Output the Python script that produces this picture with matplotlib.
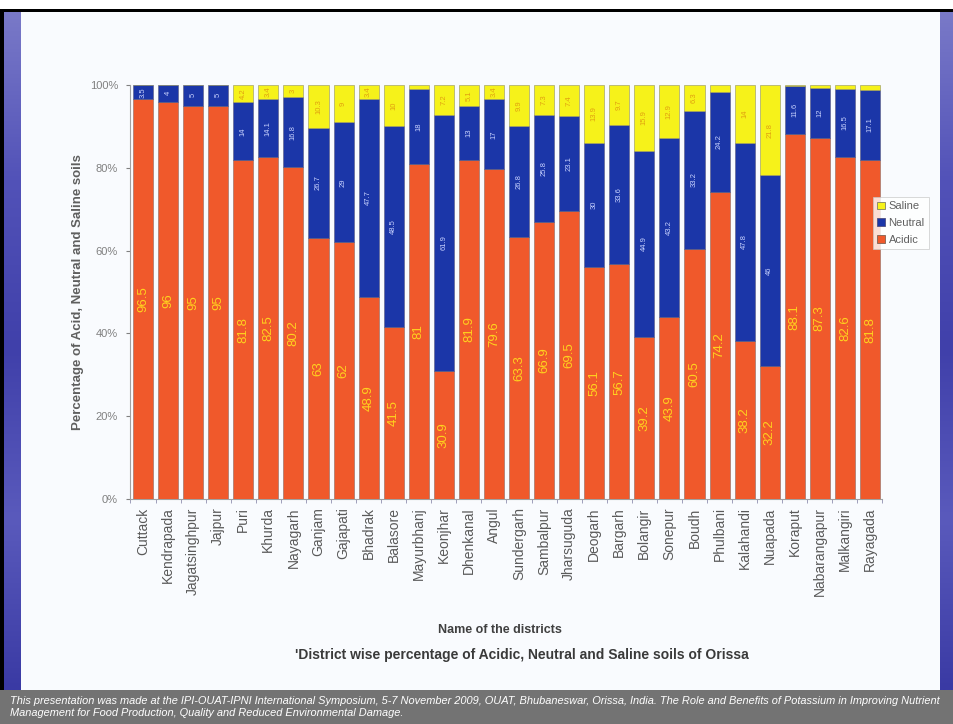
import numpy as np
import matplotlib
matplotlib.use("Agg")
import matplotlib.pyplot as plt
from matplotlib.patches import Rectangle, Patch
from matplotlib.colors import LinearSegmentedColormap
from matplotlib.ticker import FixedLocator, PercentFormatter

plt.rcParams['font.family'] = ['Liberation Sans', 'DejaVu Sans']

districts = ["Cuttack", "Kendrapada", "Jagatsinghpur", "Jajpur", "Puri", "Khurda",
             "Nayagarh", "Ganjam", "Gajapati", "Bhadrak", "Balasore", "Mayurbhanj",
             "Keonjhar", "Dhenkanal", "Angul", "Sundergarh", "Sambalpur", "Jharsuguda",
             "Deogarh", "Bargarh", "Bolangir", "Sonepur", "Boudh", "Phulbani",
             "Kalahandi", "Nuapada", "Koraput", "Nabarangapur", "Malkangiri", "Rayagada"]
acidic = [96.5, 96, 95, 95, 81.8, 82.5, 80.2, 63, 62, 48.9, 41.5, 81, 30.9, 81.9, 79.6,
          63.3, 66.9, 69.5, 56.1, 56.7, 39.2, 43.9, 60.5, 74.2, 38.2, 32.2, 88.1, 87.3,
          82.6, 81.8]
neutral = [3.5, 4, 5, 5, 14, 14.1, 16.8, 26.7, 29, 47.7, 48.5, 18, 61.9, 13, 17,
           26.8, 25.8, 23.1, 30, 33.6, 44.9, 43.2, 33.2, 24.2, 47.8, 46, 11.6, 12,
           16.5, 17.1]
saline = [0, 0, 0, 0, 4.2, 3.4, 3, 10.3, 9, 3.4, 10, 1, 7.2, 5.1, 3.4, 9.9, 7.3, 7.4,
          13.9, 9.7, 15.9, 12.9, 6.3, 1.6, 14, 21.8, 0.3, 0.7, 0.9, 1.1]

c_acid = '#F0592B'
c_neut = '#1B36A8'
c_sal = '#F6F21A'

W, H = 954, 724
fig = plt.figure(figsize=(W / 100, H / 100), dpi=100)
fig.patch.set_facecolor('white')

# slide frame: blue side strips, black top edge, grey footer band
def strip(x0, x1, y0, y1, cmap):
    a = fig.add_axes([x0 / W, 1 - y1 / H, (x1 - x0) / W, (y1 - y0) / H])
    grad = np.linspace(0, 1, 256).reshape(-1, 1)
    a.imshow(grad, aspect='auto', cmap=cmap, extent=[0, 1, 0, 1])
    a.axis('off')

blue_l = LinearSegmentedColormap.from_list('bl', ['#7a7ac8', '#5252b8', '#4040aa', '#5a5abc', '#3a3aa4'])
strip(4, 21, 10, 690, blue_l)
strip(940, 954, 10, 690, blue_l)
fig.patches.append(Rectangle((21 / W, 1 - 690 / H), 919 / W, 680 / H, transform=fig.transFigure,
                             facecolor='#f9fbfe', edgecolor='none', zorder=-5))
fig.patches.append(Rectangle((0, 1 - 12 / H), 1, 3.5 / H, transform=fig.transFigure,
                             facecolor='black', edgecolor='none'))
fig.patches.append(Rectangle((0, 1 - 724 / H), 4 / W, 714 / H, transform=fig.transFigure,
                             facecolor='black', edgecolor='none'))
fig.patches.append(Rectangle((0, 0), 1, 34 / H, transform=fig.transFigure,
                             facecolor='#737373', edgecolor='none'))

ax = fig.add_axes([130.5 / W, 1 - 499 / H, 752 / W, 414 / H])
ax.set_facecolor('none')
x = np.arange(len(districts))
acid_arr = np.array(acidic)
neut_arr = np.array(neutral)
sal_arr = np.array(saline)

ax.bar(x, acid_arr, width=0.8, color=c_acid, edgecolor='#8a6a60', linewidth=0.4, zorder=3)
ax.bar(x, neut_arr, width=0.8, bottom=acid_arr, color=c_neut, edgecolor='#5a5a80',
       linewidth=0.4, zorder=3)
ax.bar(x, sal_arr, width=0.8, bottom=acid_arr + neut_arr, color=c_sal,
       edgecolor='#909060', linewidth=0.4, zorder=3)

# value labels inside each segment
for i in range(len(x)):
    ax.text(x[i], acid_arr[i] / 2, f"{acid_arr[i]:g}", rotation=90, ha='center',
            va='center', fontsize=9.5, color='#FFD21E', zorder=4)
    ax.text(x[i], acid_arr[i] + neut_arr[i] / 2, f"{neut_arr[i]:g}", rotation=90,
            ha='center', va='center', fontsize=5.5, color='#c8d2ff', zorder=4)
    if sal_arr[i] >= 2:
        ax.text(x[i], acid_arr[i] + neut_arr[i] + sal_arr[i] / 2, f"{sal_arr[i]:g}",
                rotation=90, ha='center', va='center', fontsize=5.5, color='#E0A010', zorder=4)

ax.set_xlim(-0.5, len(x) - 0.5)
ax.set_ylim(0, 100)
ax.yaxis.set_major_locator(FixedLocator([0, 20, 40, 60, 80, 100]))
ax.yaxis.set_major_formatter(PercentFormatter(decimals=0))
ax.set_xticks(x)
ax.set_xticklabels(districts, rotation=90, fontsize=10, color='#5a5a5a')
ax.xaxis.set_minor_locator(FixedLocator(np.arange(-0.5, len(x), 1)))
ax.tick_params(axis='x', which='major', length=0, pad=6)
ax.tick_params(axis='x', which='minor', length=3, color='#9090b0')
ax.tick_params(axis='y', labelsize=8, colors='#808080', length=3, pad=6)
for s in ['top', 'right']:
    ax.spines[s].set_visible(False)
for s in ['left', 'bottom']:
    ax.spines[s].set_color('#a0a0a0')
    ax.spines[s].set_linewidth(0.8)

fig.text(78 / W, 1 - 292 / H, "Percentage of Acid, Neutral and Saline soils", rotation=90,
         ha='center', va='center', fontsize=9.5, fontweight='bold', color='#5f5f5f')
fig.text(500 / W, 1 - 630 / H, "Name of the districts", ha='center', va='center',
         fontsize=9, fontweight='bold', color='#404040')
fig.text(522 / W, 1 - 655 / H,
         "'District wise percentage of Acidic, Neutral and Saline soils of Orissa",
         ha='center', va='center', fontsize=10, fontweight='bold', color='#3a3a3a')

handles = [Patch(facecolor=c_sal, edgecolor='#808060', linewidth=0.6, label='Saline'),
           Patch(facecolor=c_neut, edgecolor='#505080', linewidth=0.6, label='Neutral'),
           Patch(facecolor=c_acid, edgecolor='#806050', linewidth=0.6, label='Acidic')]
leg = fig.legend(handles=handles, loc='upper left', bbox_to_anchor=(873 / W, 1 - 197 / H),
                 fontsize=8, frameon=True, fancybox=False, handlelength=0.7,
                 handleheight=0.7, handletextpad=0.3, borderpad=0.4, labelspacing=0.6,
                 borderaxespad=0)
leg.get_frame().set_edgecolor('#c8c8c8')
leg.get_frame().set_linewidth(0.6)
for t in leg.get_texts():
    t.set_color('#606060')

footer = ("This presentation was made at the IPI-OUAT-IPNI International Symposium, 5-7 November 2009, "
          "OUAT, Bhubaneswar, Orissa, India. The Role and Benefits of Potassium in Improving Nutrient\n"
          "Management for Food Production, Quality and Reduced Environmental Damage.")
fig.text(10 / W, 1 - 707 / H, footer, ha='left', va='center', fontsize=7.9, style='italic',
         color='white', linespacing=1.2)

fig.savefig('out.png', dpi=100)
